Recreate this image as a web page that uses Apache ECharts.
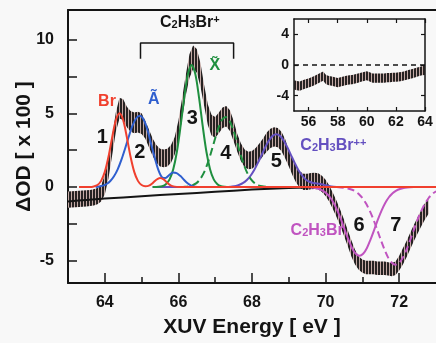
<!DOCTYPE html>
<html>
<head>
<meta charset="utf-8">
<script src="https://cdn.jsdelivr.net/npm/echarts@6/dist/echarts.min.js"></script>
<style>
  html, body { margin: 0; padding: 0; background: #f8f8f8; }
  #chart { width: 436px; height: 343px; }
</style>
</head>
<body>
<div id="chart"></div>
<script>
const FONT = '"Liberation Sans", Arial, Helvetica, sans-serif';

// Measured transient absorption, ΔOD x 100, with its uncertainty
const energy = [
  63.0, 63.1, 63.2, 63.3, 63.4, 63.5, 63.6, 63.7, 63.8, 63.9,
  64.0, 64.1, 64.2, 64.3, 64.4, 64.5, 64.6, 64.7, 64.8, 64.9,
  65.0, 65.1, 65.2, 65.3, 65.4, 65.5, 65.6, 65.7, 65.8, 65.9,
  66.0, 66.1, 66.2, 66.3, 66.4, 66.5, 66.6, 66.7, 66.8, 66.9,
  67.0, 67.1, 67.2, 67.3, 67.4, 67.5, 67.6, 67.7, 67.8, 67.9,
  68.0, 68.1, 68.2, 68.3, 68.4, 68.5, 68.6, 68.7, 68.8, 68.9,
  69.0, 69.1, 69.2, 69.3, 69.4, 69.5, 69.6, 69.7, 69.8, 69.9,
  70.0, 70.1, 70.2, 70.3, 70.4, 70.5, 70.6, 70.7, 70.8, 70.9,
  71.0, 71.1, 71.2, 71.3, 71.4, 71.5, 71.6, 71.7, 71.8, 71.9,
  72.0, 72.1, 72.2, 72.3, 72.4, 72.5, 72.6, 72.7, 72.8
];
const deltaOD = [
  -0.85, -0.84, -0.82, -0.80, -0.78, -0.76, -0.74, -0.70, -0.62, -0.42,
  0.15, 1.25, 2.8, 4.4, 5.35, 5.25, 4.75, 4.45, 4.35, 4.4,
  4.3, 3.9, 3.3, 2.7, 2.25, 2.0, 1.95, 2.0, 2.25, 2.8,
  3.8, 5.3, 6.9, 8.2, 8.8, 8.55, 7.6, 6.2, 4.9, 4.2,
  4.05, 4.35, 4.7, 4.8, 4.5, 3.8, 3.0, 2.35, 1.95, 1.8,
  1.85, 2.05, 2.35, 2.7, 3.05, 3.3, 3.4, 3.35, 3.1, 2.6,
  1.95, 1.35, 0.85, 0.5, 0.35, 0.35, 0.4, 0.42, 0.38, 0.22,
  -0.05, -0.45, -0.95, -1.5, -2.1, -2.75, -3.45, -4.15, -4.75, -5.15,
  -5.35, -5.45, -5.45, -5.45, -5.5, -5.5, -5.5, -5.55, -5.6, -5.5,
  -5.15, -4.7, -4.2, -3.65, -3.1, -2.6, -2.1, -1.65, -1.25
];
const deltaErr = [
  0.55, 0.55, 0.55, 0.55, 0.55, 0.55, 0.55, 0.55, 0.55, 0.55,
  0.65, 0.65, 0.65, 0.65, 0.7, 0.7, 0.7, 0.7, 0.7, 0.7,
  0.7, 0.6, 0.6, 0.6, 0.6, 0.6, 0.6, 0.6, 0.6, 0.6,
  0.7, 0.7, 0.7, 0.8, 0.8, 0.8, 0.8, 0.7, 0.7, 0.7,
  0.7, 0.7, 0.7, 0.7, 0.7, 0.7, 0.6, 0.6, 0.6, 0.6,
  0.6, 0.6, 0.6, 0.6, 0.65, 0.65, 0.65, 0.65, 0.65, 0.65,
  0.55, 0.55, 0.55, 0.55, 0.55, 0.55, 0.55, 0.55, 0.55, 0.55,
  0.55, 0.55, 0.55, 0.55, 0.55, 0.55, 0.55, 0.55, 0.5, 0.45,
  0.45, 0.45, 0.45, 0.45, 0.45, 0.45, 0.45, 0.45, 0.45, 0.45,
  0.5, 0.55, 0.55, 0.55, 0.55, 0.55, 0.55, 0.55, 0.55
];

// Inset: lower-energy region of the same spectrum
const insetEnergy = [
  55.0, 55.2, 55.4, 55.6, 55.8, 56.0, 56.2, 56.4, 56.6, 56.8,
  57.0, 57.2, 57.4, 57.6, 57.8, 58.0, 58.2, 58.4, 58.6, 58.8,
  59.0, 59.2, 59.4, 59.6, 59.8, 60.0, 60.2, 60.4, 60.6, 60.8,
  61.0, 61.2, 61.4, 61.6, 61.8, 62.0, 62.2, 62.4, 62.6, 62.8,
  63.0, 63.2, 63.4, 63.6, 63.8, 64.0
];
const insetOD = [
  -2.6, -2.7, -2.75, -2.6, -2.45, -2.35, -2.2, -2.05, -1.85, -1.65,
  -1.45, -1.9, -2.05, -2.1, -2.2, -2.3, -2.2, -2.1, -2.0, -1.95,
  -1.9, -1.8, -1.7, -1.6, -1.5, -1.4, -1.55, -1.7, -1.7, -1.7,
  -1.7, -1.7, -1.65, -1.65, -1.6, -1.6, -1.55, -1.5, -1.4, -1.3,
  -1.2, -1.1, -0.95, -0.85, -0.75, -0.7
];
const insetErr = [
  0.6, 0.6, 0.6, 0.6, 0.6, 0.6, 0.6, 0.6, 0.6, 0.6,
  0.6, 0.6, 0.6, 0.6, 0.6, 0.6, 0.6, 0.6, 0.6, 0.6,
  0.6, 0.6, 0.6, 0.6, 0.6, 0.6, 0.6, 0.6, 0.6, 0.6,
  0.6, 0.6, 0.6, 0.6, 0.6, 0.6, 0.6, 0.6, 0.6, 0.6,
  0.6, 0.6, 0.6, 0.6, 0.6, 0.6
];
const insetZeroE = [55, 64];
const insetZeroV = [0, 0];

// Fit components
const brE = [63.3, 63.6, 63.7, 63.8, 63.9, 64.0, 64.1, 64.2, 64.3, 64.4, 64.5, 64.6, 64.7, 64.8, 64.9,
  65.0, 65.1, 65.2, 65.3, 65.4, 65.5, 65.6, 65.7, 65.8, 65.9, 66.0, 73.0];
const brV = [0, 0, 0.04, 0.14, 0.42, 1.03, 2.05, 3.37, 4.53, 5.0, 4.53, 3.37, 2.05, 1.03, 0.42,
  0.14, 0.06, 0.1, 0.27, 0.5, 0.62, 0.52, 0.28, 0.1, 0.03, 0, 0];

const aE = [63.75, 63.85, 63.95, 64.05, 64.15, 64.25, 64.35, 64.45, 64.55, 64.65, 64.75, 64.85, 64.95,
  65.05, 65.15, 65.25, 65.35, 65.45, 65.55, 65.65, 65.75, 65.85, 65.95, 66.05, 66.15, 66.25, 66.35, 66.45, 66.6];
const aV = [0, 0.045, 0.1, 0.21, 0.41, 0.73, 1.2, 1.84, 2.6, 3.41, 4.14, 4.65, 4.83,
  4.6, 3.95, 3.0, 2.05, 1.2, 0.68, 0.62, 0.82, 0.98, 0.95, 0.76, 0.5, 0.26, 0.1, 0.03, 0];

const x3E = [65.3, 65.46, 65.56, 65.66, 65.76, 65.86, 65.96, 66.06, 66.16, 66.26, 66.36,
  66.46, 66.56, 66.66, 66.76, 66.86, 66.96, 67.06, 67.16, 67.26, 67.4];
const x3V = [0, 0.02, 0.06, 0.19, 0.52, 1.21, 2.41, 4.14, 6.08, 7.66, 8.27,
  7.66, 6.08, 4.14, 2.41, 1.21, 0.52, 0.19, 0.06, 0.02, 0];

const x4E = [66.05, 66.18, 66.28, 66.38, 66.48, 66.58, 66.68, 66.78, 66.88, 66.98, 67.08, 67.18, 67.28,
  67.38, 67.48, 67.58, 67.68, 67.78, 67.88, 67.98, 68.08, 68.18, 68.28, 68.38, 68.5];
const x4V = [0, 0.02, 0.05, 0.12, 0.25, 0.5, 0.91, 1.51, 2.28, 3.14, 3.95, 4.54, 4.75,
  4.54, 3.95, 3.14, 2.28, 1.51, 0.91, 0.5, 0.25, 0.12, 0.05, 0.02, 0];

const dicationE = [65.3, 67.3, 67.46, 67.56, 67.66, 67.76, 67.86, 67.96, 68.06, 68.16, 68.26, 68.36, 68.46, 68.56, 68.66,
  68.76, 68.86, 68.96, 69.06, 69.16, 69.26, 69.36, 69.46, 69.56, 69.66, 69.76, 69.86, 69.96, 70.06, 70.16, 70.3];
const dicationV = [0, 0, 0.04, 0.08, 0.16, 0.28, 0.48, 0.77, 1.16, 1.64, 2.17, 2.70, 3.16, 3.47, 3.58,
  3.47, 3.16, 2.70, 2.17, 1.64, 1.16, 0.8, 0.52, 0.36, 0.28, 0.25, 0.21, 0.15, 0.09, 0.04, 0];

const n6E = [69.5, 69.72, 69.82, 69.92, 70.02, 70.12, 70.22, 70.32, 70.42, 70.52, 70.62, 70.72, 70.82, 70.92,
  71.02, 71.12, 71.22, 71.32, 71.42, 71.52, 71.62, 71.72, 71.82, 71.92, 72.02, 72.12, 72.22, 72.4];
const n6V = [0, -0.06, -0.13, -0.24, -0.42, -0.69, -1.08, -1.60, -2.21, -2.90, -3.56, -4.14, -4.52, -4.66,
  -4.52, -4.14, -3.56, -2.90, -2.21, -1.60, -1.08, -0.69, -0.42, -0.24, -0.13, -0.06, -0.03, 0];

const n7E = [70.3, 70.5, 70.6, 70.7, 70.8, 70.9, 71.0, 71.1, 71.2, 71.3, 71.4, 71.5, 71.6, 71.7, 71.8, 71.9,
  72.0, 72.1, 72.2, 72.3, 72.4, 72.5, 72.6, 72.7, 72.8, 72.9, 73.0];
const n7V = [0, -0.05, -0.09, -0.16, -0.28, -0.47, -0.74, -1.12, -1.61, -2.20, -2.88, -3.58, -4.23, -4.78, -5.13, -5.26,
  -5.13, -4.78, -4.23, -3.58, -2.88, -2.20, -1.61, -1.12, -0.74, -0.47, -0.28];

const baseE = [63.0, 63.5, 64.0, 65.0, 66.0, 67.0, 68.0, 69.0, 69.5, 70.0, 73.0];
const baseV = [-0.97, -0.87, -0.78, -0.62, -0.47, -0.32, -0.17, -0.06, -0.02, 0, 0];

// Bracket grouping the cation states
const bracketE = [64.97, 64.97, 67.5, 67.5];
const bracketV = [8.7, 9.77, 9.77, 8.7];

// Tick positions
const yTicks = [-5, -2.5, 0, 2.5, 5, 7.5, 10];
const yLabels = [-5, 0, 5, 10];
const xMajor = [64, 66, 68, 70, 72];
const xMinor = [65, 67, 69, 71];
const insetXTicks = [56, 58, 60, 62, 64];
const insetYTicks = [-4, 0, 4];

// Annotations
const noteText = ['Br', 'Ã', 'X̃', 'C2H3Br+', 'C2H3Br++', 'C2H3Br', '1', '2', '3', '4', '5', '6', '7'];
const noteE = [64.06, 65.33, 66.99, 66.31, 70.21, 69.77, 63.93, 64.95, 66.38, 67.29, 68.66, 70.91, 71.91];
const noteV = [5.81, 5.9, 8.2, 11.18, 2.79, -2.95, 3.36, 2.35, 4.63, 2.3, 1.72, -2.58, -2.58];

const RED = '#f0402e', BLUE = '#2f5fcf', GREEN = '#1f8f3f', VIOLET = '#6450c0', MAGENTA = '#c054c0', INK = '#141414';
const noteColor = [RED, BLUE, GREEN, INK, VIOLET, MAGENTA, INK, INK, INK, INK, INK, INK, INK];

// Dense error bars drawn as a vertically striped band
function stripes() {
  const c = document.createElement('canvas');
  c.width = 3; c.height = 4;
  const g = c.getContext('2d');
  g.fillStyle = '#c4aaa6'; g.fillRect(0, 0, 3, 4);
  g.fillStyle = '#262222'; g.fillRect(0, 0, 2, 4);
  return c;
}
const bandFill = { image: stripes(), repeat: 'repeat' };

function bandSeries(xs, ys, es, xi, yi) {
  return {
    type: 'custom', xAxisIndex: xi, yAxisIndex: yi, z: 1, silent: true,
    data: [[xs[0], ys[0]]],
    renderItem(params, api) {
      const up = [], lo = [];
      for (let i = 0; i < xs.length; i++) {
        up.push(api.coord([xs[i], ys[i] + es[i]]));
        lo.push(api.coord([xs[i], ys[i] - es[i]]));
      }
      return { type: 'polygon', shape: { points: up.concat(lo.reverse()) }, style: { fill: bandFill } };
    }
  };
}

function curve(xs, vs, color, dashed, z, xi, yi, width) {
  return {
    type: 'line', xAxisIndex: xi || 0, yAxisIndex: yi || 0, silent: true,
    data: xs.map((x, i) => [x, vs[i]]),
    symbol: 'none', smooth: 0.3, z: z,
    lineStyle: { color: color, width: width || 2, type: dashed ? dashed : 'solid' }
  };
}

function species(text, color) {
  const m = text.match(/^C2H3Br(\+*)$/);
  if (!m) return null;
  let s = '{c|C}{s|2}{c|H}{s|3}{c|Br}';
  if (m[1]) s += '{p|' + m[1] + '}';
  return {
    formatter: s,
    rich: {
      c: { fontSize: 16, fontWeight: 'bold', fontFamily: FONT, color: color },
      s: { fontSize: 11, fontWeight: 'bold', fontFamily: FONT, color: color, verticalAlign: 'bottom' },
      p: { fontSize: 11, fontWeight: 'bold', fontFamily: FONT, color: color, verticalAlign: 'top' }
    }
  };
}

const notes = noteText.map((t, i) => {
  const sp = species(t, noteColor[i]);
  const isDigit = /^\d$/.test(t);
  const label = sp ? Object.assign({ show: true, position: 'inside', opacity: 1 }, sp) : {
    show: true, position: 'inside', formatter: t, opacity: 1,
    fontSize: isDigit ? 20 : 16, fontWeight: 'bold', fontFamily: FONT, color: noteColor[i]
  };
  return { value: [noteE[i], noteV[i]], label: label };
});

const axisLineStyle = { color: INK, width: 2 };
const tickFont = { fontSize: 16, fontWeight: 'bold', fontFamily: FONT, color: INK };
const insetFont = { fontSize: 14, fontWeight: 'bold', fontFamily: FONT, color: INK };

const chart = echarts.init(document.getElementById('chart'), null, { renderer: 'canvas' });
chart.setOption({
  animation: false,
  backgroundColor: '#f8f8f8',
  grid: [
    { left: 68, top: 10, right: -9, bottom: 58 },
    { left: 294, top: 19, width: 131, height: 92 }
  ],
  xAxis: [
    {
      gridIndex: 0, type: 'value', min: 63, max: 73, position: 'bottom',
      axisLine: { onZero: false, lineStyle: axisLineStyle },
      axisTick: { inside: true, length: 10, customValues: xMajor, lineStyle: { color: INK, width: 1.5 } },
      axisLabel: Object.assign({ customValues: xMajor, margin: 12 }, tickFont),
      splitLine: { show: false },
      name: 'XUV Energy [ eV ]', nameLocation: 'middle', nameGap: 34, nameMoveOverlap: false,
      nameTextStyle: { fontSize: 21, fontWeight: 'bold', fontFamily: FONT, color: INK }
    },
    {
      gridIndex: 0, type: 'value', min: 63, max: 73, position: 'bottom',
      axisLine: { show: false, onZero: false },
      axisTick: { inside: true, length: 6, customValues: xMinor, lineStyle: { color: INK, width: 1.5 } },
      axisLabel: { show: false }, splitLine: { show: false }
    },
    {
      gridIndex: 0, type: 'value', min: 63, max: 73, position: 'top',
      axisLine: { onZero: false, lineStyle: axisLineStyle },
      axisTick: { show: false }, axisLabel: { show: false }, splitLine: { show: false }
    },
    {
      gridIndex: 1, type: 'value', min: 55, max: 64, position: 'bottom',
      axisLine: { onZero: false, lineStyle: { color: INK, width: 1.5 } },
      axisTick: { inside: true, length: 4, customValues: insetXTicks, lineStyle: { color: INK, width: 1.2 } },
      axisLabel: Object.assign({ customValues: insetXTicks, margin: 4 }, insetFont),
      splitLine: { show: false }
    },
    {
      gridIndex: 1, type: 'value', min: 55, max: 64, position: 'top',
      axisLine: { onZero: false, lineStyle: { color: INK, width: 1.5 } },
      axisTick: { inside: true, length: 4, customValues: insetXTicks, lineStyle: { color: INK, width: 1.2 } },
      axisLabel: { show: false }, splitLine: { show: false }
    }
  ],
  yAxis: [
    {
      gridIndex: 0, type: 'value', min: -6.5, max: 12, position: 'left',
      axisLine: { show: true, onZero: false, lineStyle: axisLineStyle },
      axisTick: { show: true, inside: true, length: 9, customValues: yTicks, lineStyle: { color: INK, width: 1.5 } },
      axisLabel: Object.assign({ customValues: yLabels, margin: 14 }, tickFont),
      splitLine: { show: false },
      name: 'ΔOD [ x 100 ]', nameLocation: 'middle', nameRotate: 90, nameGap: 33, nameMoveOverlap: false,
      nameTextStyle: { fontSize: 21, fontWeight: 'bold', fontFamily: FONT, color: INK }
    },
    {
      gridIndex: 1, type: 'value', min: -6, max: 6, position: 'left',
      axisLine: { show: true, onZero: false, lineStyle: { color: INK, width: 1.5 } },
      axisTick: { show: true, inside: true, length: 4, customValues: insetYTicks, lineStyle: { color: INK, width: 1.2 } },
      axisLabel: Object.assign({ customValues: insetYTicks, margin: 5 }, insetFont),
      splitLine: { show: false }
    },
    {
      gridIndex: 1, type: 'value', min: -6, max: 6, position: 'right',
      axisLine: { show: true, onZero: false, lineStyle: { color: INK, width: 1.5 } },
      axisTick: { show: true, inside: true, length: 4, customValues: insetYTicks, lineStyle: { color: INK, width: 1.2 } },
      axisLabel: { show: false }, splitLine: { show: false }
    }
  ],
  series: [
    bandSeries(energy, deltaOD, deltaErr, 0, 0),
    curve(baseE, baseV, INK, null, 2),
    curve(dicationE, dicationV, VIOLET, null, 3),
    curve(n7E, n7V, MAGENTA, [7, 4], 3),
    curve(n6E, n6V, MAGENTA, null, 3),
    curve(x4E, x4V, GREEN, [8, 4], 3),
    curve(x3E, x3V, GREEN, null, 3),
    curve(aE, aV, BLUE, null, 4),
    curve(brE, brV, RED, null, 5),
    {
      type: 'line', xAxisIndex: 0, yAxisIndex: 0, silent: true, symbol: 'none', z: 5,
      data: bracketE.map((x, i) => [x, bracketV[i]]),
      lineStyle: { color: INK, width: 1.5 }
    },
    {
      type: 'scatter', xAxisIndex: 0, yAxisIndex: 0, silent: true, z: 6,
      symbolSize: 1, itemStyle: { color: 'rgba(0,0,0,0)', opacity: 1 },
      data: notes
    },
    bandSeries(insetEnergy, insetOD, insetErr, 3, 1),
    {
      type: 'line', xAxisIndex: 3, yAxisIndex: 1, silent: true, symbol: 'none', z: 3,
      data: insetZeroE.map((x, i) => [x, insetZeroV[i]]),
      lineStyle: { color: INK, width: 1.5, type: [5, 4] }
    }
  ]
});
</script>
</body>
</html>
